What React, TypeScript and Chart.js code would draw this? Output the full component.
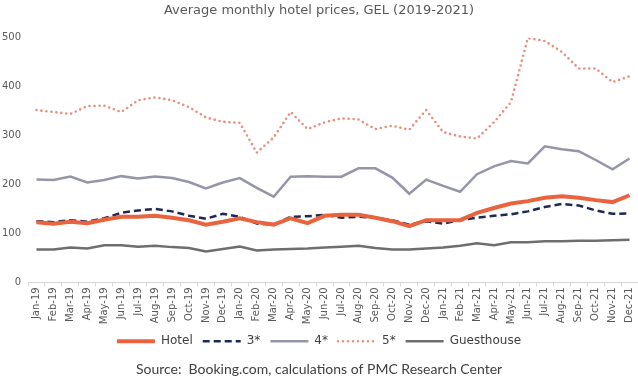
import React, { useEffect, useRef } from "react";
import { Chart, registerables } from "chart.js";

Chart.register(...registerables);

const months: string[] = [
  "Jan-19", "Feb-19", "Mar-19", "Apr-19", "May-19", "Jun-19", "Jul-19", "Aug-19", "Sep-19", "Oct-19", "Nov-19", "Dec-19",
  "Jan-20", "Feb-20", "Mar-20", "Apr-20", "May-20", "Jun-20", "Jul-20", "Aug-20", "Sep-20", "Oct-20", "Nov-20", "Dec-20",
  "Jan-21", "Feb-21", "Mar-21", "Apr-21", "May-21", "Jun-21", "Jul-21", "Aug-21", "Sep-21", "Oct-21", "Nov-21", "Dec-21",
];

const hotel: number[] = [123, 120, 124, 121, 128, 134, 134, 136, 132, 127, 118, 124, 131, 123, 118, 131, 121, 136, 138, 138, 132, 125, 115, 127, 127, 127, 142, 152, 161, 166, 173, 176, 173, 168, 164, 178];
const star3: number[] = [125, 123, 127, 124, 131, 142, 147, 150, 145, 136, 130, 140, 134, 120, 118, 134, 135, 138, 132, 134, 132, 127, 118, 125, 120, 127, 132, 136, 139, 145, 154, 160, 157, 147, 140, 141];
const star4: number[] = [210, 209, 216, 204, 209, 217, 212, 216, 213, 205, 192, 204, 213, 193, 175, 216, 217, 216, 216, 233, 233, 214, 181, 210, 197, 185, 221, 237, 248, 243, 278, 272, 268, 250, 231, 253];
const star5: number[] = [352, 348, 344, 360, 361, 348, 372, 378, 372, 358, 337, 328, 326, 265, 296, 348, 313, 327, 335, 333, 313, 320, 312, 352, 307, 298, 294, 327, 368, 499, 493, 471, 437, 437, 409, 421];
const guesthouse: number[] = [67, 67, 71, 69, 76, 76, 73, 75, 72, 70, 63, 68, 73, 65, 67, 68, 69, 71, 73, 75, 70, 67, 67, 69, 71, 75, 80, 76, 82, 82, 84, 84, 85, 85, 86, 87];

const yTicks: number[] = [0, 100, 200, 300, 400, 500];

export default function App() {
  const ref = useRef<HTMLCanvasElement | null>(null);

  useEffect(() => {
    if (!ref.current) return;
    const chart = new Chart(ref.current, {
      type: "line",
      data: {
        labels: months,
        datasets: [
          { label: "Hotel", data: hotel, borderColor: "#E9633F", backgroundColor: "#E9633F", borderWidth: 4, pointRadius: 0, tension: 0 },
          { label: "3*", data: star3, borderColor: "#1E2852", backgroundColor: "#1E2852", borderWidth: 2.5, borderDash: [7, 4], pointRadius: 0, tension: 0 },
          { label: "4*", data: star4, borderColor: "#9496A8", backgroundColor: "#9496A8", borderWidth: 2.5, pointRadius: 0, tension: 0 },
          { label: "5*", data: star5, borderColor: "#E3907F", backgroundColor: "#E3907F", borderWidth: 2.6, borderDash: [0, 5], borderCapStyle: "round", pointRadius: 0, tension: 0 },
          { label: "Guesthouse", data: guesthouse, borderColor: "#6E6E6E", backgroundColor: "#6E6E6E", borderWidth: 2.5, pointRadius: 0, tension: 0 },
        ],
      },
      options: {
        responsive: false,
        animation: false,
        layout: { padding: { left: 0, right: 0, top: 0, bottom: 0 } },
        plugins: {
          title: {
            display: true,
            text: "Average monthly hotel prices, GEL (2019-2021)",
            color: "#595959",
            font: { family: "DejaVu Sans", size: 13, weight: "normal" },
            padding: { top: 3, bottom: 19 },
          },
          subtitle: {
            display: true,
            position: "bottom",
            text: "Source:  Booking.com, calculations of PMC Research Center",
            color: "#404040",
            font: { family: "Lato", size: 14, weight: "normal" },
            padding: { top: 4, bottom: 5 },
          },
          legend: {
            position: "bottom",
            labels: {
              usePointStyle: true,
              pointStyle: "line",
              pointStyleWidth: 38,
              boxHeight: 12,
              color: "#404040",
              font: { family: "DejaVu Sans", size: 12 },
              padding: 10,
              generateLabels: (c: any) =>
                c.data.datasets.map((ds: any, i: number) => ({
                  text: ds.label,
                  fillStyle: ds.borderColor,
                  strokeStyle: ds.borderColor,
                  lineWidth: ds.borderWidth,
                  lineDash: ds.borderDash || [],
                  lineCap: ds.borderCapStyle || "butt",
                  pointStyle: "line",
                  fontColor: "#404040",
                  hidden: false,
                  datasetIndex: i,
                })),
            },
          },
          tooltip: { enabled: false },
        },
        scales: {
          x: {
            offset: true,
            afterFit: (scale: any) => {
              scale.paddingLeft = 0;
              scale.paddingRight = 0;
            },
            grid: { display: true, drawOnChartArea: false, drawTicks: true, tickLength: 4, color: "#D9D9D9", offset: true },
            border: { display: true, color: "#D9D9D9" },
            ticks: {
              autoSkip: false,
              maxRotation: 90,
              minRotation: 90,
              padding: 1,
              color: "#595959",
              font: { family: "DejaVu Sans", size: 10 },
            },
          },
          y: {
            min: 0,
            max: 500,
            afterBuildTicks: (axis: any) => {
              axis.ticks = yTicks.map((v) => ({ value: v }));
            },
            afterFit: (scale: any) => {
              scale.width = 28;
            },
            grid: { display: false, drawTicks: false },
            border: { display: false },
            ticks: {
              padding: 7,
              color: "#595959",
              font: { family: "DejaVu Sans", size: 10 },
            },
          },
        },
      },
    });
    return () => chart.destroy();
  }, []);

  return (
    <div style={{ position: "fixed", left: 0, top: 0, width: 638, height: 383, background: "#fff" }}>
      <canvas ref={ref} width={638} height={383} />
    </div>
  );
}
